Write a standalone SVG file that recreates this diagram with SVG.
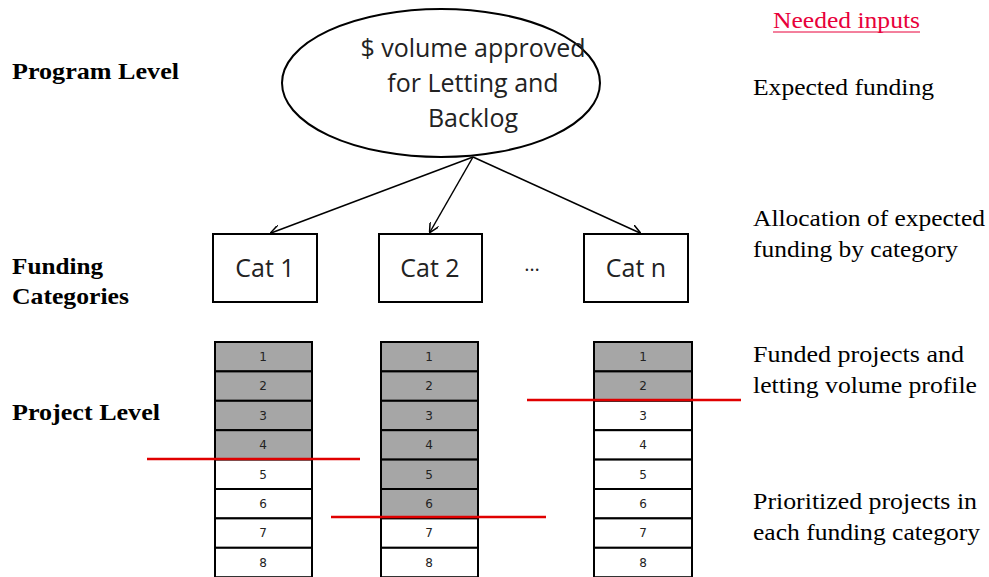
<svg xmlns="http://www.w3.org/2000/svg" width="989" height="577" viewBox="0 0 989 577">
<defs>
<style>
.lbl{font-family:"Liberation Serif",serif;font-size:23px;font-weight:bold;fill:#000}
.rt{font-family:"Liberation Serif",serif;font-size:23px;fill:#000}
.sans{font-family:"Open Sans","Liberation Sans",sans-serif;fill:#222;text-anchor:middle}
.box{fill:#fff;stroke:#000;stroke-width:2}
.g{fill:#a6a6a6;stroke:#000;stroke-width:2}
.w{fill:#fff;stroke:#000;stroke-width:2}
.n{font-family:"DejaVu Sans",sans-serif;font-size:12px;fill:#222;text-anchor:middle}
.red{stroke:#e00000;stroke-width:2.5}
.conn{stroke:#000;stroke-width:1.5;fill:none;marker-end:url(#ah)}
</style>
<marker id="ah" viewBox="0 0 10 10" refX="9" refY="5" markerWidth="10" markerHeight="10" markerUnits="userSpaceOnUse" orient="auto">
<path d="M0,0 L10,5 L0,10" fill="none" stroke="#000" stroke-width="1.5"/>
</marker>
</defs>
<rect width="989" height="577" fill="#fff"/>

<g id="labels">
<text class="lbl" x="12" y="79" textLength="167" lengthAdjust="spacingAndGlyphs">Program Level</text>
<text class="lbl" x="12" y="274" textLength="91" lengthAdjust="spacingAndGlyphs">Funding</text>
<text class="lbl" x="12" y="304" textLength="117" lengthAdjust="spacingAndGlyphs">Categories</text>
<text class="lbl" x="12" y="420" textLength="148" lengthAdjust="spacingAndGlyphs">Project Level</text>
</g>

<g id="inputs">
<text class="rt" x="773" y="28" style="fill:#e8003a" textLength="147" lengthAdjust="spacingAndGlyphs">Needed inputs</text>
<line x1="773" y1="32" x2="920" y2="32" stroke="#e8003a" stroke-width="1"/>
<text class="rt" x="753" y="95" textLength="181" lengthAdjust="spacingAndGlyphs">Expected  funding</text>
<text class="rt" x="753" y="226" textLength="232" lengthAdjust="spacingAndGlyphs">Allocation of expected</text>
<text class="rt" x="753" y="257" textLength="205" lengthAdjust="spacingAndGlyphs">funding by category</text>
<text class="rt" x="753" y="362" textLength="211" lengthAdjust="spacingAndGlyphs">Funded projects and</text>
<text class="rt" x="753" y="393" textLength="224" lengthAdjust="spacingAndGlyphs">letting volume profile</text>
<text class="rt" x="753" y="509" textLength="224" lengthAdjust="spacingAndGlyphs">Prioritized projects in</text>
<text class="rt" x="753" y="540" textLength="227" lengthAdjust="spacingAndGlyphs">each funding category</text>
</g>

<g id="program">
<ellipse cx="441" cy="83" rx="159" ry="74" fill="#fff" stroke="#000" stroke-width="2"/>
<text class="sans" x="473" y="57" font-size="25">$ volume approved</text>
<text class="sans" x="473" y="92" font-size="25">for Letting and</text>
<text class="sans" x="473" y="127" font-size="25">Backlog</text>
</g>

<g id="connectors">
<line class="conn" x1="473" y1="157" x2="271" y2="233"/>
<line class="conn" x1="473" y1="157" x2="430" y2="232"/>
<line class="conn" x1="473" y1="157" x2="640" y2="233"/>
</g>

<g id="cat1">
<rect class="box" x="213" y="234" width="104" height="68"/>
<text class="sans" x="265" y="277" font-size="25">Cat 1</text>
</g>
<g id="cat2">
<rect class="box" x="379" y="234" width="103" height="68"/>
<text class="sans" x="430" y="277" font-size="25">Cat 2</text>
</g>
<g id="dots"><text class="sans" x="532" y="271" font-size="20">…</text></g>
<g id="catn">
<rect class="box" x="584" y="234" width="104" height="68"/>
<text class="sans" x="636" y="277" font-size="25">Cat n</text>
</g>

<g id="stack1">
<rect class="g" x="215" y="342" width="97" height="29.4"/>
<rect class="g" x="215" y="371.4" width="97" height="29.4"/>
<rect class="g" x="215" y="400.8" width="97" height="29.4"/>
<rect class="g" x="215" y="430.2" width="97" height="29.4"/>
<rect class="w" x="215" y="459.6" width="97" height="29.4"/>
<rect class="w" x="215" y="489" width="97" height="29.4"/>
<rect class="w" x="215" y="518.4" width="97" height="29.4"/>
<rect class="w" x="215" y="547.8" width="97" height="29.4"/>
<text class="n" x="263" y="361">1</text>
<text class="n" x="263" y="390">2</text>
<text class="n" x="263" y="420">3</text>
<text class="n" x="263" y="449">4</text>
<text class="n" x="263" y="479">5</text>
<text class="n" x="263" y="508">6</text>
<text class="n" x="263" y="537">7</text>
<text class="n" x="263" y="567">8</text>
</g>

<g id="stack2">
<rect class="g" x="381" y="342" width="97" height="29.4"/>
<rect class="g" x="381" y="371.4" width="97" height="29.4"/>
<rect class="g" x="381" y="400.8" width="97" height="29.4"/>
<rect class="g" x="381" y="430.2" width="97" height="29.4"/>
<rect class="g" x="381" y="459.6" width="97" height="29.4"/>
<rect class="g" x="381" y="489" width="97" height="29.4"/>
<rect class="w" x="381" y="518.4" width="97" height="29.4"/>
<rect class="w" x="381" y="547.8" width="97" height="29.4"/>
<text class="n" x="429" y="361">1</text>
<text class="n" x="429" y="390">2</text>
<text class="n" x="429" y="420">3</text>
<text class="n" x="429" y="449">4</text>
<text class="n" x="429" y="479">5</text>
<text class="n" x="429" y="508">6</text>
<text class="n" x="429" y="537">7</text>
<text class="n" x="429" y="567">8</text>
</g>

<g id="stackn">
<rect class="g" x="594" y="342" width="98" height="29.4"/>
<rect class="g" x="594" y="371.4" width="98" height="29.4"/>
<rect class="w" x="594" y="400.8" width="98" height="29.4"/>
<rect class="w" x="594" y="430.2" width="98" height="29.4"/>
<rect class="w" x="594" y="459.6" width="98" height="29.4"/>
<rect class="w" x="594" y="489" width="98" height="29.4"/>
<rect class="w" x="594" y="518.4" width="98" height="29.4"/>
<rect class="w" x="594" y="547.8" width="98" height="29.4"/>
<text class="n" x="643" y="361">1</text>
<text class="n" x="643" y="390">2</text>
<text class="n" x="643" y="420">3</text>
<text class="n" x="643" y="449">4</text>
<text class="n" x="643" y="479">5</text>
<text class="n" x="643" y="508">6</text>
<text class="n" x="643" y="537">7</text>
<text class="n" x="643" y="567">8</text>
</g>

<g id="cutoffs">
<line class="red" x1="147" y1="459" x2="360" y2="459"/>
<line class="red" x1="331" y1="517" x2="546" y2="517"/>
<line class="red" x1="527" y1="400" x2="741" y2="400"/>
</g>
</svg>
